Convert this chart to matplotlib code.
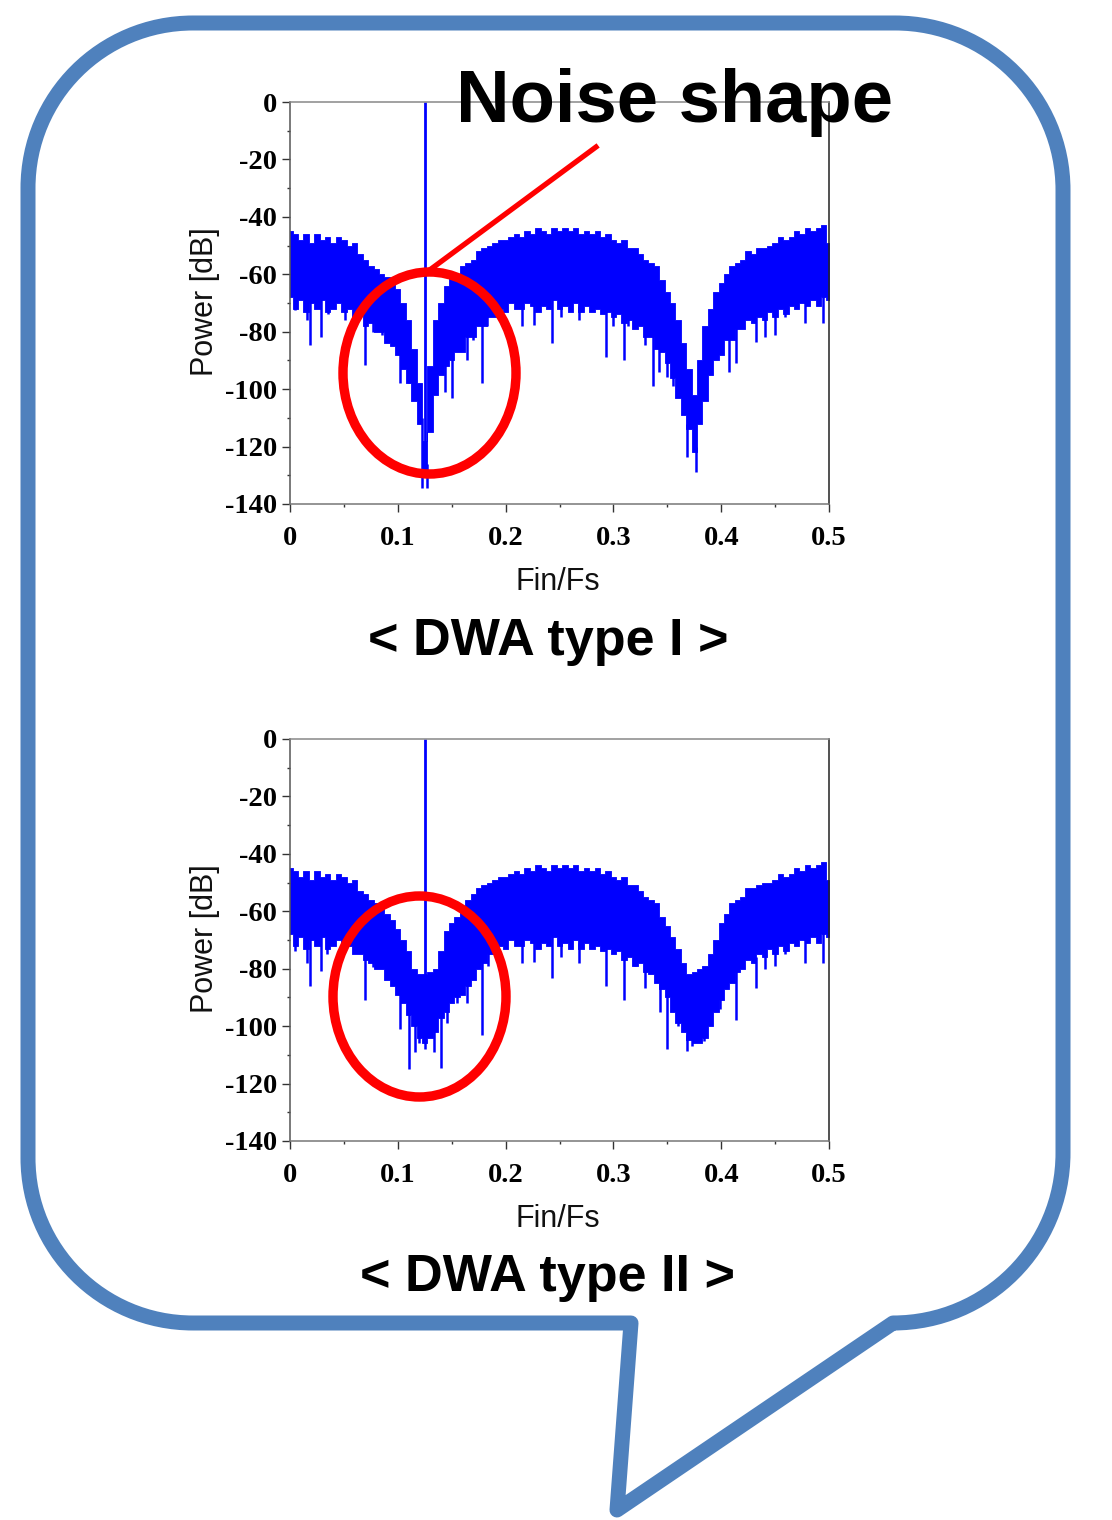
import numpy as np
import matplotlib.pyplot as plt
from matplotlib.patches import Ellipse, PathPatch
from matplotlib.path import Path
from matplotlib.lines import Line2D
from matplotlib.ticker import MultipleLocator, FuncFormatter

plt.rcParams['axes.unicode_minus'] = False

W, H = 1112, 1520

# spectrum envelopes, one value per bin from 0 to 0.5 Fin/Fs (step 0.005)
top_I = [-45, -46, -48, -46, -49, -46, -48, -47, -49, -47,
         -48, -50, -49, -53, -55, -57, -58, -60, -61, -63,
         -65, -70, -76, -86, -98, -118, -92, -76, -70, -64,
         -61, -60, -57, -56, -55, -52, -51, -50, -49, -48,
         -48, -47, -46, -47, -45, -46, -44, -45, -46, -44,
         -45, -44, -45, -44, -46, -45, -46, -45, -47, -46,
         -48, -49, -48, -51, -51, -53, -55, -56, -57, -62,
         -66, -70, -76, -84, -93, -102, -90, -78, -72, -66,
         -63, -60, -57, -56, -55, -52, -53, -51, -51, -50,
         -49, -47, -48, -47, -45, -46, -44, -45, -44, -43,
         -49]
bot_I = [-68, -72, -69, -73, -70, -72, -69, -73, -72, -70,
         -73, -72, -75, -74, -78, -77, -80, -80, -84, -85,
         -88, -93, -98, -104, -112, -128, -115, -102, -95, -92,
         -90, -87, -87, -82, -82, -78, -78, -75, -75, -72,
         -73, -70, -72, -72, -70, -71, -73, -71, -72, -69,
         -72, -71, -73, -70, -73, -71, -73, -72, -74, -73,
         -75, -74, -77, -76, -79, -78, -82, -82, -86, -87,
         -91, -96, -103, -109, -114, -122, -112, -104, -95, -90,
         -88, -83, -83, -79, -79, -76, -77, -75, -76, -73,
         -75, -72, -74, -71, -72, -70, -71, -69, -71, -68,
         -69]
top_II = [-45, -46, -48, -46, -49, -46, -48, -47, -49, -47,
          -48, -50, -49, -53, -54, -56, -57, -58, -61, -63,
          -66, -70, -74, -80, -82, -82, -81, -80, -74, -67,
          -64, -62, -60, -56, -54, -52, -51, -50, -49, -48,
          -48, -47, -46, -47, -45, -46, -44, -45, -46, -44,
          -45, -44, -45, -44, -46, -45, -46, -45, -47, -46,
          -48, -49, -48, -51, -51, -53, -55, -56, -57, -62,
          -65, -69, -73, -78, -82, -81, -80, -79, -75, -70,
          -64, -61, -57, -56, -55, -52, -52, -51, -50, -50,
          -49, -47, -48, -47, -45, -46, -44, -45, -44, -43,
          -49]
bot_II = [-68, -72, -69, -73, -70, -72, -69, -73, -72, -70,
          -73, -72, -75, -75, -77, -78, -80, -80, -84, -86,
          -89, -92, -96, -100, -104, -106, -104, -102, -97, -95,
          -92, -90, -89, -86, -84, -80, -78, -75, -75, -72,
          -73, -70, -72, -72, -70, -71, -73, -71, -72, -69,
          -72, -71, -73, -70, -73, -71, -73, -72, -74, -73,
          -75, -74, -77, -76, -79, -78, -81, -82, -85, -87,
          -90, -95, -99, -102, -105, -106, -106, -104, -100, -95,
          -91, -87, -85, -81, -80, -77, -78, -75, -76, -73,
          -75, -72, -74, -71, -72, -70, -71, -69, -71, -68,
          -69]

# deep single-bin dips (freq, dB)
spike_f_I = [0.005, 0.016, 0.019, 0.029, 0.035, 0.051, 0.0695, 0.077, 0.085, 0.102,
             0.110, 0.1225, 0.1275, 0.144, 0.150, 0.164, 0.170, 0.178, 0.183,
             0.215, 0.226, 0.243, 0.251, 0.268, 0.293, 0.300, 0.310, 0.314, 0.329,
             0.337, 0.342, 0.350, 0.355, 0.368, 0.377, 0.407, 0.414, 0.432, 0.441,
             0.450, 0.459, 0.478, 0.494]
spike_db_I = [-72.5, -76, -84.5, -82, -74, -76, -91.5, -80, -81, -98,
              -98, -134.5, -134.5, -101, -103, -90, -83, -98, -78,
              -78, -77.5, -84, -75, -76, -88.7, -78, -90, -78, -84.6,
              -99, -94, -95.6, -99, -123.6, -129, -94, -91, -83.6, -82,
              -81, -75, -77, -77]
spike_f_II = [0.005, 0.016, 0.019, 0.029, 0.034, 0.0695, 0.077, 0.102, 0.110, 0.116,
              0.120, 0.125, 0.134, 0.140, 0.146, 0.155, 0.164, 0.169, 0.178, 0.184,
              0.215, 0.226, 0.243, 0.251, 0.268, 0.293, 0.310, 0.320, 0.329, 0.343,
              0.350, 0.355, 0.360, 0.368, 0.373, 0.384, 0.399, 0.414, 0.432, 0.441,
              0.450, 0.459, 0.478, 0.494]
spike_db_II = [-74, -78, -86, -80.7, -75, -91, -79.5, -101, -115, -109,
               -106, -108, -109, -114.5, -99, -92, -92, -82, -103, -79,
               -78, -77.5, -83.3, -76, -78, -86, -91, -79, -86.6, -95,
               -108, -90, -100, -108.7, -107, -105, -94, -98, -86.6, -80,
               -79, -75, -78, -78]

tone_f = 0.125
tone_db = 0.0

xticks = [0, 0.1, 0.2, 0.3, 0.4, 0.5]
yticks = [0, -20, -40, -60, -80, -100, -120, -140]

BLUE = '#0000FF'
BUBBLE = '#4F81BD'


def fx(x):
    return x / W


def fy(y):
    return 1 - y / H


fig = plt.figure(figsize=(W / 100, H / 100), dpi=100)


def spectrum(ax, top, bot, sf, sdb):
    top = np.array(top, float)
    bot = np.array(bot, float)
    f = np.linspace(0, 0.5, len(top))
    ax.fill_between(f, bot, top, step='mid', color=BLUE, lw=0.6, ec=BLUE)
    for x, d in zip(sf, sdb):
        i = np.argmin(np.abs(f - x))
        ax.vlines(x, d, bot[i] + 2, color=BLUE, lw=1.8)
    i = np.argmin(np.abs(f - tone_f))
    ax.vlines(tone_f, bot[i], tone_db, color=BLUE, lw=2)
    ax.set_xlim(0, 0.5)
    ax.set_ylim(-140, 0)
    ax.set_xticks(xticks)
    ax.set_yticks(yticks)
    ax.xaxis.set_minor_locator(MultipleLocator(0.05))
    ax.yaxis.set_minor_locator(MultipleLocator(10))
    ax.xaxis.set_major_formatter(FuncFormatter(lambda v, p: '%g' % v))
    ax.yaxis.set_major_formatter(FuncFormatter(lambda v, p: '%d' % v))
    ax.tick_params(which='both', direction='out', top=False, right=False,
                   color='#333333', width=1)
    ax.tick_params(which='major', length=5.5)
    ax.tick_params(which='minor', length=2.5)
    ax.tick_params(axis='y', pad=4)
    ax.tick_params(axis='x', pad=10)
    for lab in ax.get_xticklabels() + ax.get_yticklabels():
        lab.set_fontfamily('Liberation Serif')
        lab.set_fontweight('bold')
        lab.set_fontsize(20.5)
    ax.spines['top'].set_color('#888888')
    ax.spines['bottom'].set_color('#777777')
    ax.spines['left'].set_color('#555555')
    ax.spines['right'].set_color('#222222')
    for s in ax.spines.values():
        s.set_linewidth(1.1)


ax1 = fig.add_axes([fx(290), fy(504), 539 / W, 402 / H])
spectrum(ax1, top_I, bot_I, spike_f_I, spike_db_I)
ax2 = fig.add_axes([fx(290), fy(1141), 539 / W, 402 / H])
spectrum(ax2, top_II, bot_II, spike_f_II, spike_db_II)

lab_kw = dict(family='Liberation Sans', fontsize=22, color='#111111')
for off in (0, 637):
    fig.text(fx(213), fy(302 + off), 'Power [dB]', rotation=90,
             rotation_mode='anchor', ha='center', va='baseline', **lab_kw)
    fig.text(fx(558), fy(590 + off), 'Fin/Fs', ha='center', va='baseline', **lab_kw)

title_kw = dict(family='Liberation Sans', fontweight='bold', fontsize=37.5, color='black')
fig.text(fx(548), fy(655), '< DWA type I >', ha='center', va='baseline', **title_kw)
fig.text(fx(548), fy(1291), '< DWA type II >', ha='center', va='baseline', **title_kw)

fig.text(fx(674), fy(122), 'Noise shape', ha='center', va='baseline',
         family='Liberation Sans', fontweight='bold', fontsize=53.5, color='black',
         zorder=10)

# red annotations
fig.add_artist(Line2D([fx(596), fx(431)], [fy(147), fy(269)], transform=fig.transFigure,
                      color='red', lw=3.8, zorder=6))
fig.add_artist(Ellipse((fx(429.5), fy(373)), 173 / W, 202 / H, transform=fig.transFigure,
                       fill=False, ec='red', lw=6.8, zorder=6))
fig.add_artist(Ellipse((fx(419.5), fy(996.5)), 173 / W, 201 / H, transform=fig.transFigure,
                       fill=False, ec='red', lw=6.8, zorder=6))

# speech bubble outline
k = 0.5523


def corner(a, c, b):
    return [(a[0] + k * (c[0] - a[0]), a[1] + k * (c[1] - a[1])),
            (b[0] + k * (c[0] - b[0]), b[1] + k * (c[1] - b[1])), b]


pts = [(193, 23), (895, 23)]
codes = [Path.MOVETO, Path.LINETO]
pts += corner((895, 23), (1063, 23), (1063, 190)); codes += [Path.CURVE4] * 3
pts += [(1063, 1153)]; codes += [Path.LINETO]
pts += corner((1063, 1153), (1063, 1323), (893, 1323)); codes += [Path.CURVE4] * 3
pts += [(617, 1510), (631, 1323), (193, 1323)]; codes += [Path.LINETO] * 3
pts += corner((193, 1323), (28, 1323), (28, 1158)); codes += [Path.CURVE4] * 3
pts += [(28, 188)]; codes += [Path.LINETO]
pts += corner((28, 188), (28, 23), (193, 23)); codes += [Path.CURVE4] * 3
pts += [(193, 23)]; codes += [Path.CLOSEPOLY]
verts = [(fx(x), fy(y)) for x, y in pts]
fig.add_artist(PathPatch(Path(verts, codes), transform=fig.transFigure, fill=False,
                         ec=BUBBLE, lw=10.8, joinstyle='round', zorder=1))

fig.savefig('out.png', dpi=100)
